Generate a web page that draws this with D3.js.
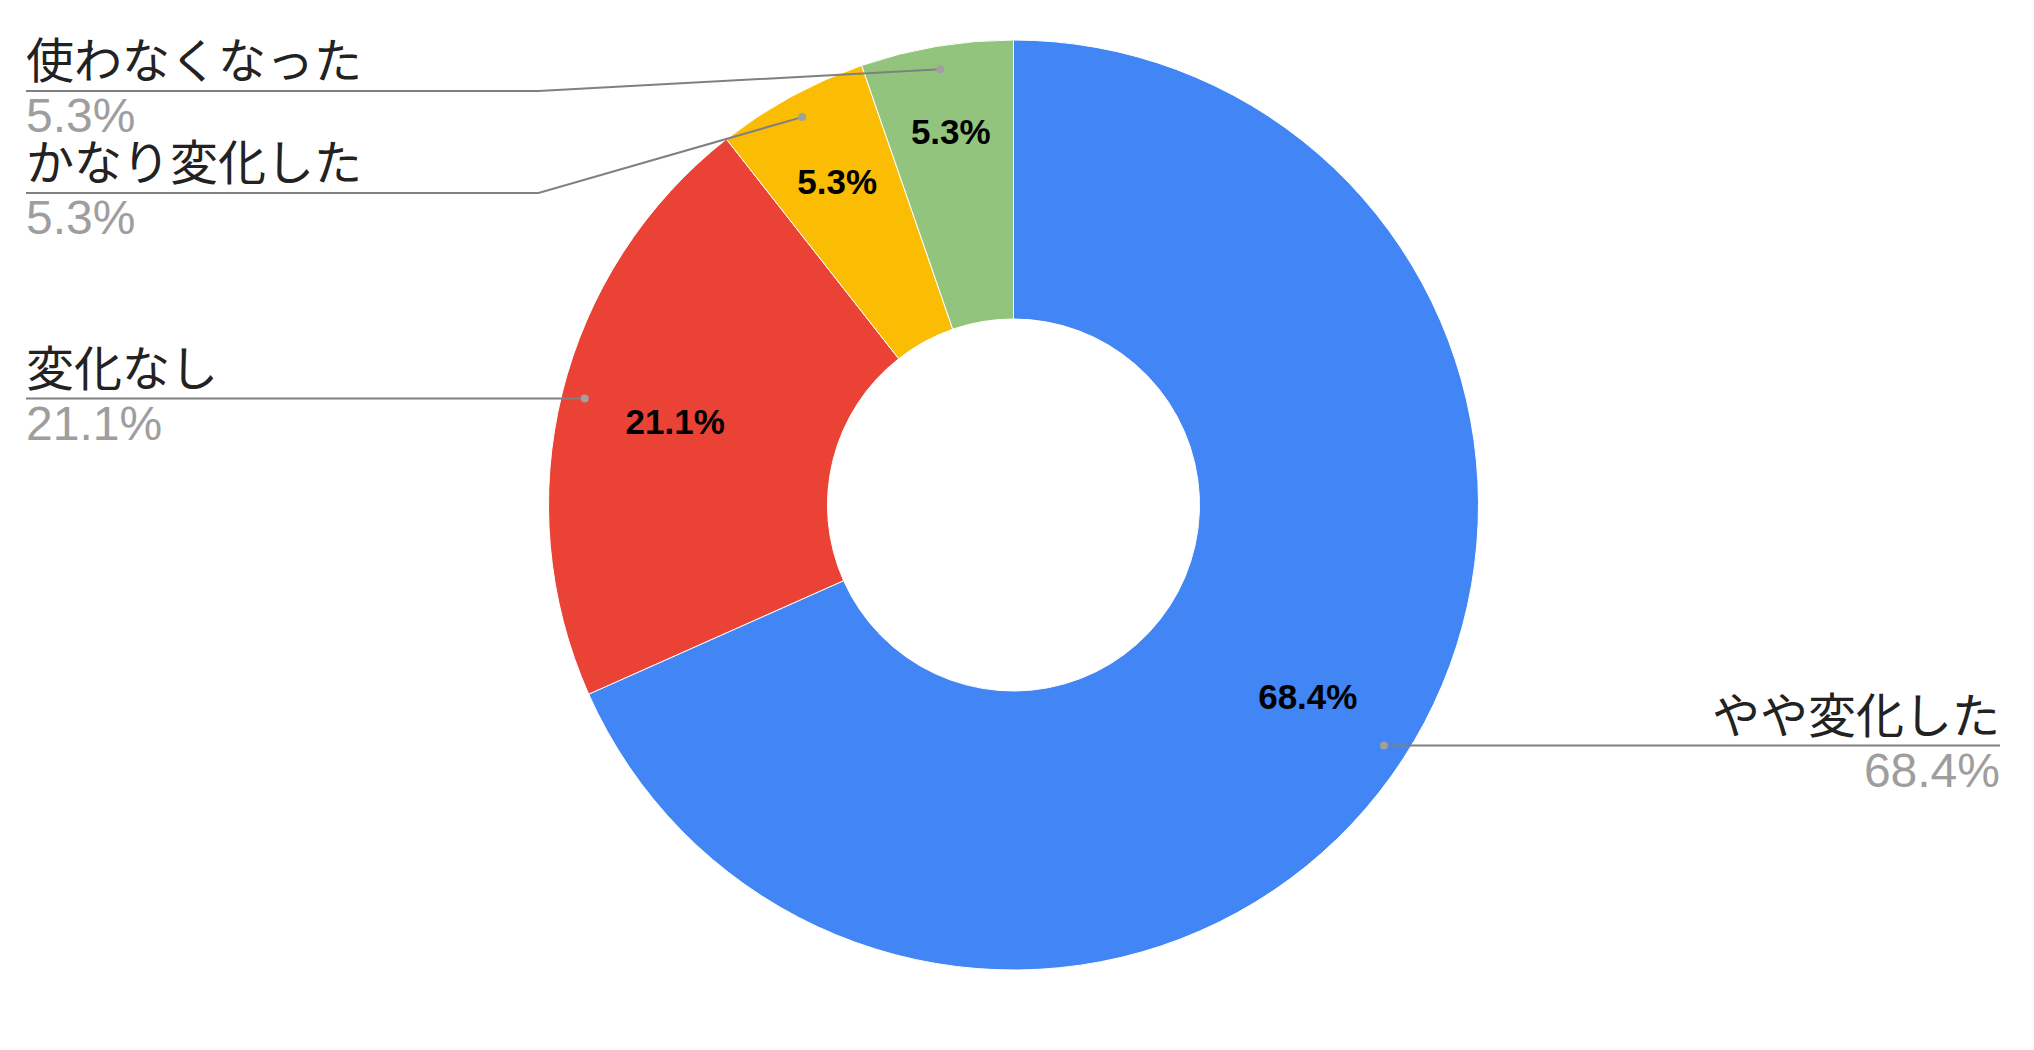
<!DOCTYPE html>
<html>
<head>
<meta charset="utf-8">
<script src="https://cdn.jsdelivr.net/npm/d3@7"></script>
<style>
  html, body { margin: 0; padding: 0; background: #ffffff; }
  svg { display: block; }
</style>
</head>
<body>
<svg id="chart" width="2034" height="1050"></svg>
<script>
// ---- data ----
const categories = ["やや変化した", "変化なし", "かなり変化した", "使わなくなった"];
const values = [68.4, 21.1, 5.3, 5.3];
const colors = ["#4285f4", "#ea4335", "#fbbc04", "#93c47d"];

// ---- layout ----
const W = 2034, H = 1050;
const cx = 1013.5, cy = 505, R = 465, holeRatio = 0.4;
const r0 = R * holeRatio;
const leftX = 26, rightX = 2000;
const nameSize = 48, pctSize = 48, innerSize = 35;
const blockHalf = 51;          // half height of an outside label block
const dotR = R * 0.95;
const innerFar = R * 0.86;     // farthest corner of inside label box

const svg = d3.select("#chart");
svg.append("rect").attr("width", W).attr("height", H).attr("fill", "#fff");

const data = categories.map((c, i) => ({ name: c, v: values[i], color: colors[i] }));
const arcs = d3.pie().sort(null).value(d => d.v)(data);
const arc = d3.arc().innerRadius(r0).outerRadius(R);

const g = svg.append("g").attr("transform", `translate(${cx},${cy})`);
g.selectAll("path.slice").data(arcs).join("path")
  .attr("class", "slice")
  .attr("d", arc)
  .attr("fill", d => d.data.color)
  .attr("stroke", "#ffffff")
  .attr("stroke-width", 1);

const fmt = v => v.toFixed(1) + "%";

// inside labels
arcs.forEach(d => {
  const a = (d.startAngle + d.endAngle) / 2;
  const s = Math.sin(a), c = -Math.cos(a);
  const t = g.append("text")
    .attr("text-anchor", "middle")
    .attr("font-family", "'Liberation Sans', Arial, sans-serif")
    .attr("font-weight", "bold")
    .attr("font-size", innerSize)
    .attr("fill", "#000")
    .text(fmt(d.data.v));
  const w = t.node().getComputedTextLength();
  const hw = w / 2, hh = innerSize * 0.37;
  const ax = Math.sign(s) * hw, by = Math.sign(c) * hh;
  const k = s * ax + c * by;
  const rho = -k + Math.sqrt(k * k - (ax * ax + by * by - innerFar * innerFar));
  const x = rho * s, y = rho * c;
  t.attr("x", x).attr("y", y + innerSize * 0.358);
});

// outside labels
const items = arcs.map(d => {
  const a = (d.startAngle + d.endAngle) / 2;
  const dx = dotR * Math.sin(a), dy = -dotR * Math.cos(a);
  return { d, a, dotX: cx + dx, dotY: cy + dy, side: a < Math.PI ? "right" : "left" };
});

const topLimit = cy - R;
["left", "right"].forEach(side => {
  const list = items.filter(it => it.side === side).sort((p, q) => p.dotY - q.dotY);
  let prev = -Infinity;
  list.forEach(it => {
    let y = Math.max(it.dotY, topLimit + blockHalf, prev + 2 * blockHalf);
    it.lineY = y;
    prev = y;
  });
});

const lab = svg.append("g");
items.forEach(it => {
  const left = it.side === "left";
  const elbowX = left ? cx - R - 10 : cx + R + 10;
  const endX = left ? leftX : rightX;
  lab.append("polyline")
    .attr("points", [[it.dotX, it.dotY], [elbowX, it.lineY], [endX, it.lineY]].map(p => p.join(",")).join(" "))
    .attr("fill", "none")
    .attr("stroke", "#808080")
    .attr("stroke-width", 2);
  lab.append("circle")
    .attr("cx", it.dotX).attr("cy", it.dotY).attr("r", 4)
    .attr("fill", "#a0a0a0");
  lab.append("text")
    .attr("x", endX).attr("y", it.lineY - 13)
    .attr("text-anchor", left ? "start" : "end")
    .attr("font-family", "'Noto Sans CJK JP', sans-serif")
    .attr("font-size", nameSize)
    .attr("fill", "#222")
    .text(it.d.data.name);
  lab.append("text")
    .attr("x", endX).attr("y", it.lineY + 41)
    .attr("text-anchor", left ? "start" : "end")
    .attr("font-family", "'Liberation Sans', Arial, sans-serif")
    .attr("font-size", pctSize)
    .attr("fill", "#9e9e9e")
    .text(fmt(it.d.data.v));
});
</script>
</body>
</html>
